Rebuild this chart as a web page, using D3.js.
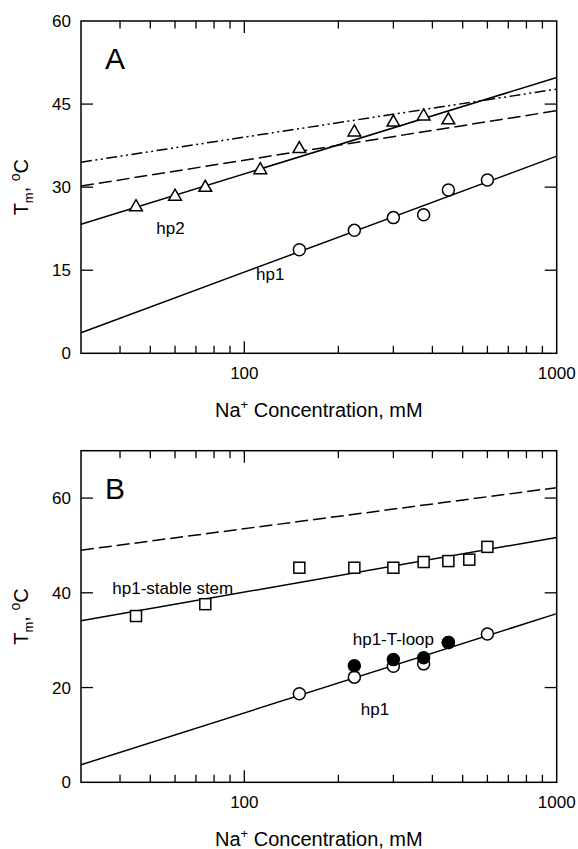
<!DOCTYPE html>
<html>
<head>
<meta charset="utf-8">
<script src="https://cdn.jsdelivr.net/npm/d3@7"></script>
<style>
  body { margin:0; background:#fff; }
  svg { font-family: "Liberation Sans", Arial, sans-serif; }
</style>
</head>
<body>
<div id="chart"></div>
<script>
// x range of both panels (mM, log)
var xDomain = [30, 1000];
var xMinorTicks = [40,50,60,70,80,90,200,300,400,500,600,700,800,900];
var xMajorTicks = [100];
var xTickLabels = [100, 1000];

// panel A
var yTicksA = [0, 15, 30, 45, 60];
var hp2Conc = [45, 60, 75, 112.5, 150, 225, 300, 375, 450];
var hp2Tm = [26.4, 28.3, 29.9, 33.1, 36.9, 39.9, 41.7, 42.8, 42.1];
var hp1Conc = [150, 225, 300, 375, 450, 600];
var hp1Tm = [18.7, 22.2, 24.5, 25.0, 29.5, 31.3];
var fitConc = [30, 1000];
var hp1FitTm = [3.7, 35.6];
var hp2FitTm = [23.3, 49.8];
var hp2DashTm = [30.2, 43.8];
var hp2DashDotTm = [34.5, 47.7];

// panel B
var yTicksB = [0, 20, 40, 60];
var stemConc = [45, 75, 150, 225, 300, 375, 450, 525, 600];
var stemTm = [35.1, 37.6, 45.3, 45.3, 45.3, 46.5, 46.7, 47.0, 49.7];
var tloopConc = [225, 300, 375, 450];
var tloopTm = [24.6, 25.9, 26.3, 29.5];
var stemFitTm = [34.1, 51.7];
var stemDashTm = [49.0, 62.2];

var W = 578, H = 849;
var left = 81, right = 556.7;

var svg = d3.select("#chart").append("svg")
  .attr("width", W).attr("height", H);

var x = d3.scaleLog().domain(xDomain).range([left, right]);

function zip(a, b){ return a.map(function(d,i){ return [d, b[i]]; }); }

function panel(top, bottom, yMax, yTicks, letter)
{
  var y = d3.scaleLinear().domain([0, yMax]).range([bottom, top]);
  var g = svg.append("g");

  // frame
  g.append("rect")
    .attr("x", left).attr("y", top)
    .attr("width", right-left).attr("height", bottom-top)
    .attr("style","fill:none;stroke:#000;stroke-width:1.5");

  // x ticks, bottom and top, pointing inward
  xMinorTicks.concat(xMajorTicks).forEach(function(t){
    var len = xMajorTicks.indexOf(t) >= 0 ? 12 : 7.5;
    g.append("line").attr("x1", x(t)).attr("x2", x(t))
      .attr("y1", bottom).attr("y2", bottom-len)
      .attr("style","stroke:#000;stroke-width:1.3");
    g.append("line").attr("x1", x(t)).attr("x2", x(t))
      .attr("y1", top).attr("y2", top+len)
      .attr("style","stroke:#000;stroke-width:1.3");
  });
  xTickLabels.forEach(function(t){
    g.append("text")
      .attr("x", x(t)).attr("y", bottom+26)
      .attr("text-anchor","middle")
      .attr("style","font-size:17px")
      .text(t);
  });

  // y ticks
  yTicks.forEach(function(t){
    if(t > 0 && t < yMax){
      g.append("line").attr("x1", left).attr("x2", left+12)
        .attr("y1", y(t)).attr("y2", y(t))
        .attr("style","stroke:#000;stroke-width:1.3");
      g.append("line").attr("x1", right).attr("x2", right-12)
        .attr("y1", y(t)).attr("y2", y(t))
        .attr("style","stroke:#000;stroke-width:1.3");
    }
    g.append("text")
      .attr("x", left-10).attr("y", y(t)+6)
      .attr("text-anchor","end")
      .attr("style","font-size:17px")
      .text(t);
  });

  // axis titles
  var xt = g.append("text")
    .attr("x", (left+right)/2).attr("y", bottom+63.5)
    .attr("text-anchor","middle")
    .attr("style","font-size:20px");
  xt.append("tspan").text("Na");
  xt.append("tspan").attr("dy",-8).attr("style","font-size:13px").text("+");
  xt.append("tspan").attr("dy",8).text(" Concentration, mM");

  var yt = g.append("text")
    .attr("transform","translate(28,"+((top+bottom)/2)+") rotate(-90)")
    .attr("text-anchor","middle")
    .attr("style","font-size:20px");
  yt.append("tspan").text("T");
  yt.append("tspan").attr("dy",5).attr("style","font-size:13px").text("m");
  yt.append("tspan").attr("dy",-5).text(", ");
  yt.append("tspan").attr("dy",-8).attr("style","font-size:14px").text("o");
  yt.append("tspan").attr("dy",8).text("C");

  g.append("text")
    .attr("x", left+24).attr("y", top+48)
    .attr("style","font-size:30px")
    .text(letter);

  return {g: g, y: y};
}

function fitLine(p, tm, dash)
{
  var line = d3.line().x(function(d){ return x(d[0]); }).y(function(d){ return p.y(d[1]); });
  p.g.append("path")
    .attr("d", line(zip(fitConc, tm)))
    .attr("style","fill:none;stroke:#000;stroke-width:1.5"+(dash ? ";stroke-dasharray:"+dash : ""));
}

function circles(p, conc, tm, fill)
{
  p.g.selectAll(null).data(zip(conc, tm)).enter().append("circle")
    .attr("cx", function(d){ return x(d[0]); })
    .attr("cy", function(d){ return p.y(d[1]); })
    .attr("r", 6)
    .attr("style","fill:"+fill+";stroke:#000;stroke-width:1.5");
}

function triangles(p, conc, tm)
{
  var sym = d3.symbol().type(d3.symbolTriangle).size(70);
  p.g.selectAll(null).data(zip(conc, tm)).enter().append("path")
    .attr("d", sym)
    .attr("transform", function(d){ return "translate("+x(d[0])+","+p.y(d[1])+")"; })
    .attr("style","fill:#fff;stroke:#000;stroke-width:1.5");
}

function squares(p, conc, tm)
{
  p.g.selectAll(null).data(zip(conc, tm)).enter().append("rect")
    .attr("x", function(d){ return x(d[0])-5.5; })
    .attr("y", function(d){ return p.y(d[1])-5.5; })
    .attr("width", 11).attr("height", 11)
    .attr("style","fill:#fff;stroke:#000;stroke-width:1.5");
}

function label(p, cx, t, txt)
{
  p.g.append("text")
    .attr("x", x(cx)).attr("y", p.y(t))
    .attr("text-anchor","middle")
    .attr("style","font-size:17px")
    .text(txt);
}

// ---- A ----
var A = panel(21, 353.3, 60, yTicksA, "A");
fitLine(A, hp2DashDotTm, "11,3.5,2,3.5,2,3.5");
fitLine(A, hp2DashTm, "13,5");
fitLine(A, hp2FitTm);
fitLine(A, hp1FitTm);
triangles(A, hp2Conc, hp2Tm);
circles(A, hp1Conc, hp1Tm, "#fff");
label(A, 58, 21.5, "hp2");
label(A, 121, 13.3, "hp1");

// ---- B ----
var B = panel(450.7, 782.3, 70, yTicksB, "B");
fitLine(B, stemDashTm, "13,5");
fitLine(B, stemFitTm);
fitLine(B, hp1FitTm);
squares(B, stemConc, stemTm);
circles(B, hp1Conc, hp1Tm, "#fff");
circles(B, tloopConc, tloopTm, "#000");
label(B, 59, 39.8, "hp1-stable stem");
label(B, 300, 28.9, "hp1-T-loop");
label(B, 262, 14.2, "hp1");
</script>
</body>
</html>
